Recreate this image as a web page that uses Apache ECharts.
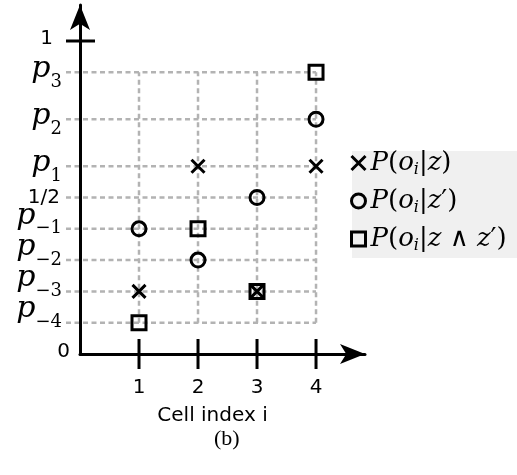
<!DOCTYPE html>
<html>
<head>
<meta charset="utf-8">
<script src="https://cdn.jsdelivr.net/npm/echarts@6/dist/echarts.min.js"></script>
<style>
html, body { margin: 0; padding: 0; background: #fff; }
#chart { width: 517px; height: 475px; }
</style>
</head>
<body>
<div id="chart"></div>
<script>
// Cell indices on the horizontal axis
const cells = [1, 2, 3, 4];

// Probability levels marked on the vertical axis
const yTickValues = [0, 0.1, 0.2, 0.3, 0.4, 0.5, 0.6, 0.75, 0.9, 1];
const yTickBase = ['0', 'p', 'p', 'p', 'p', '1/2', 'p', 'p', 'p', '1'];
const yTickSub = ['', '\u22124', '\u22123', '\u22122', '\u22121', '', '1', '2', '3', ''];

// Series
const seriesNames = ['P(o_i|z)', "P(o_i|z')", "P(o_i|z\u2227z')"];
const probZ = [0.2, 0.6, 0.2, 0.6];
const probZPrime = [0.4, 0.3, 0.5, 0.75];
const probJoint = [0.1, 0.4, 0.2, 0.9];

const X_MAX = 4.83;
const Y_MAX = 1.115;

const gridRows = yTickValues.filter(v => v > 0 && v < 1);
const rowLo = Math.min.apply(null, gridRows);
const rowHi = Math.max.apply(null, gridRows);
const lastCell = cells[cells.length - 1];

const dashStyle = { stroke: '#b3b3b3', lineWidth: 2.5, lineDash: [5, 3.5] };
const solidStyle = { stroke: '#000', lineWidth: 3 };

const measureCtx = document.createElement('canvas').getContext('2d');
function textWidth(s, size, family) { measureCtx.font = size + 'px ' + family; return measureCtx.measureText(s).width; }

const SERIF = 'DejaVu Serif';
const P_SIZE = 30;
const SUB_SIZE = 18;
const NUM_SIZE = 20;
// horizontal gap from the y axis to the right edge of plain numeric labels
const plainLabelPlacement = { '1': { gap: 27, dy: -2.5 }, '1/2': { gap: 20, dy: 0 }, '0': { gap: 10, dy: -2 } };

function txt(text, x, y, size, family, italic) {
  return {
    type: 'text',
    style: {
      text: text, x: x, y: y, fontSize: size, fontFamily: family,
      fontStyle: italic ? 'italic' : 'normal', fill: '#000', align: 'right', verticalAlign: 'middle'
    }
  };
}

function renderYLabel(params, api) {
  const idx = api.value(2);
  const pt = api.coord([0, api.value(1)]);
  const base = yTickBase[idx];
  const sub = yTickSub[idx];
  if (!sub) {
    const pl = plainLabelPlacement[base] || { gap: 18, dy: 0 };
    return txt(base, pt[0] - pl.gap, pt[1] + pl.dy, NUM_SIZE, 'DejaVu Sans', false);
  }
  const right = pt[0] - 18;
  const subW = textWidth(sub, SUB_SIZE, SERIF);
  const lowered = sub.charAt(0) !== '\u2212';
  const pY = lowered ? pt[1] - 3 : pt[1] - 13;
  const sY = lowered ? pt[1] + 10 : pt[1];
  return {
    type: 'group',
    children: [
      txt(base, right - subW, pY, P_SIZE, SERIF, true),
      txt(sub, right, sY, SUB_SIZE, SERIF, false)
    ]
  };
}

// Turn a name like P(o_i|z') into rich-text tokens: italic letters, upright symbols, subscripts
function toRich(name) {
  let out = '';
  for (let k = 0; k < name.length; k++) {
    const c = name.charAt(k);
    if (c === '_') { out += '{s|' + name.charAt(k + 1) + '}'; k++; }
    else if (/[A-Za-z]/.test(c)) out += '{i|' + c + '}';
    else if (c === "'") out += '{r|\u2032}';
    else if (c === '\u2227') out += '{r| \u2227 }';
    else out += '{r|' + c + '}';
  }
  return out;
}

const hollow = { color: 'rgba(0,0,0,0)', borderColor: '#000', borderWidth: 3, opacity: 1 };
const legendIcon = { color: 'rgba(0,0,0,0)', borderColor: '#000', borderWidth: 3 };

const option = {
  animation: false,
  grid: { left: 80, top: 5, right: 152, bottom: 121, containLabel: false, outerBoundsMode: 'none' },
  xAxis: {
    type: 'value', min: 0, max: X_MAX, interval: 1, z: 3,
    axisLine: { show: true, onZero: false, lineStyle: { color: '#000', width: 3 }, symbol: ['none', 'arrow'], symbolSize: [15, 25] },
    axisTick: { show: false },
    splitLine: { show: false },
    axisLabel: {
      margin: 24, color: '#000', fontFamily: 'DejaVu Sans', fontSize: 20,
      formatter: v => (cells.indexOf(v) >= 0 ? String(v) : '')
    },
    name: 'Cell index i', nameLocation: 'middle', nameGap: 52,
    nameTextStyle: { color: '#000', fontFamily: 'DejaVu Sans', fontSize: 20, padding: [0, 20, 0, 0] }
  },
  yAxis: {
    type: 'value', min: 0, max: Y_MAX, z: 3,
    axisLine: { show: true, lineStyle: { color: '#000', width: 3 }, symbol: ['none', 'arrow'], symbolSize: [15, 25] },
    axisTick: { show: false },
    splitLine: { show: false },
    axisLabel: { show: false }
  },
  legend: {
    orient: 'vertical', left: 350, top: 150, padding: 0, itemGap: 10,
    itemWidth: 14, itemHeight: 14, selectedMode: false,
    data: seriesNames.map(n => ({ name: n, itemStyle: legendIcon })),
    formatter: name => toRich(name),
    textStyle: {
      rich: {
        i: { fontFamily: SERIF, fontStyle: 'italic', fontSize: 26, lineHeight: 30, color: '#000' },
        r: { fontFamily: SERIF, fontSize: 26, lineHeight: 30, color: '#000' },
        s: { fontFamily: SERIF, fontStyle: 'italic', fontSize: 16, lineHeight: 18, verticalAlign: 'bottom', color: '#000' }
      }
    }
  },
  graphic: [
    { type: 'rect', left: 352, top: 151, z: -10, silent: true, shape: { width: 165, height: 107 }, style: { fill: '#f0f0f0' } },
    { type: 'text', left: 214, top: 428, silent: true, style: { text: '(b)', fontSize: 22, fontFamily: 'Liberation Serif', fill: '#000' } }
  ],
  series: [
    {
      // dashed horizontal guides at each labelled level
      type: 'custom', silent: true, z: 1, clip: false,
      data: gridRows.map(v => [0, v]),
      renderItem: (params, api) => {
        const a = api.coord([0, api.value(1)]);
        const b = api.coord([lastCell, api.value(1)]);
        return { type: 'line', shape: { x1: a[0] - 14, y1: a[1], x2: b[0], y2: b[1] }, style: dashStyle };
      }
    },
    {
      // dashed vertical guides at each cell
      type: 'custom', silent: true, z: 1, clip: false,
      data: cells.map(c => [c, 0]),
      renderItem: (params, api) => {
        const a = api.coord([api.value(0), rowLo]);
        const b = api.coord([api.value(0), rowHi]);
        return { type: 'line', shape: { x1: a[0], y1: a[1], x2: b[0], y2: b[1] }, style: dashStyle };
      }
    },
    {
      // x-axis tick marks crossing the axis
      type: 'custom', silent: true, z: 4, clip: false,
      data: cells.map(c => [c, 0]),
      renderItem: (params, api) => {
        const p = api.coord([api.value(0), 0]);
        return { type: 'line', shape: { x1: p[0], y1: p[1] - 15, x2: p[0], y2: p[1] + 15 }, style: solidStyle };
      }
    },
    {
      // tick mark for probability 1
      type: 'custom', silent: true, z: 4, clip: false,
      data: [[0, 1]],
      renderItem: (params, api) => {
        const p = api.coord([0, api.value(1)]);
        return { type: 'line', shape: { x1: p[0] - 14, y1: p[1], x2: p[0] + 15, y2: p[1] }, style: solidStyle };
      }
    },
    {
      // y tick labels
      type: 'custom', silent: true, z: 4, clip: false,
      data: yTickValues.map((v, i) => [0, v, i]),
      renderItem: renderYLabel
    },
    {
      name: seriesNames[0], type: 'scatter', z: 10, silent: true,
      symbol: 'path://M0,0L10,10M10,0L0,10', symbolSize: 13,
      itemStyle: hollow,
      data: cells.map((c, i) => [c, probZ[i]])
    },
    {
      name: seriesNames[1], type: 'scatter', z: 10, silent: true,
      symbol: 'circle', symbolSize: 14,
      itemStyle: hollow,
      data: cells.map((c, i) => [c, probZPrime[i]])
    },
    {
      name: seriesNames[2], type: 'scatter', z: 11, silent: true,
      symbol: 'rect', symbolSize: 14,
      itemStyle: hollow,
      data: cells.map((c, i) => [c, probJoint[i]])
    }
  ]
};

const chart = echarts.init(document.getElementById('chart'));
chart.setOption(option);
</script>
</body>
</html>
